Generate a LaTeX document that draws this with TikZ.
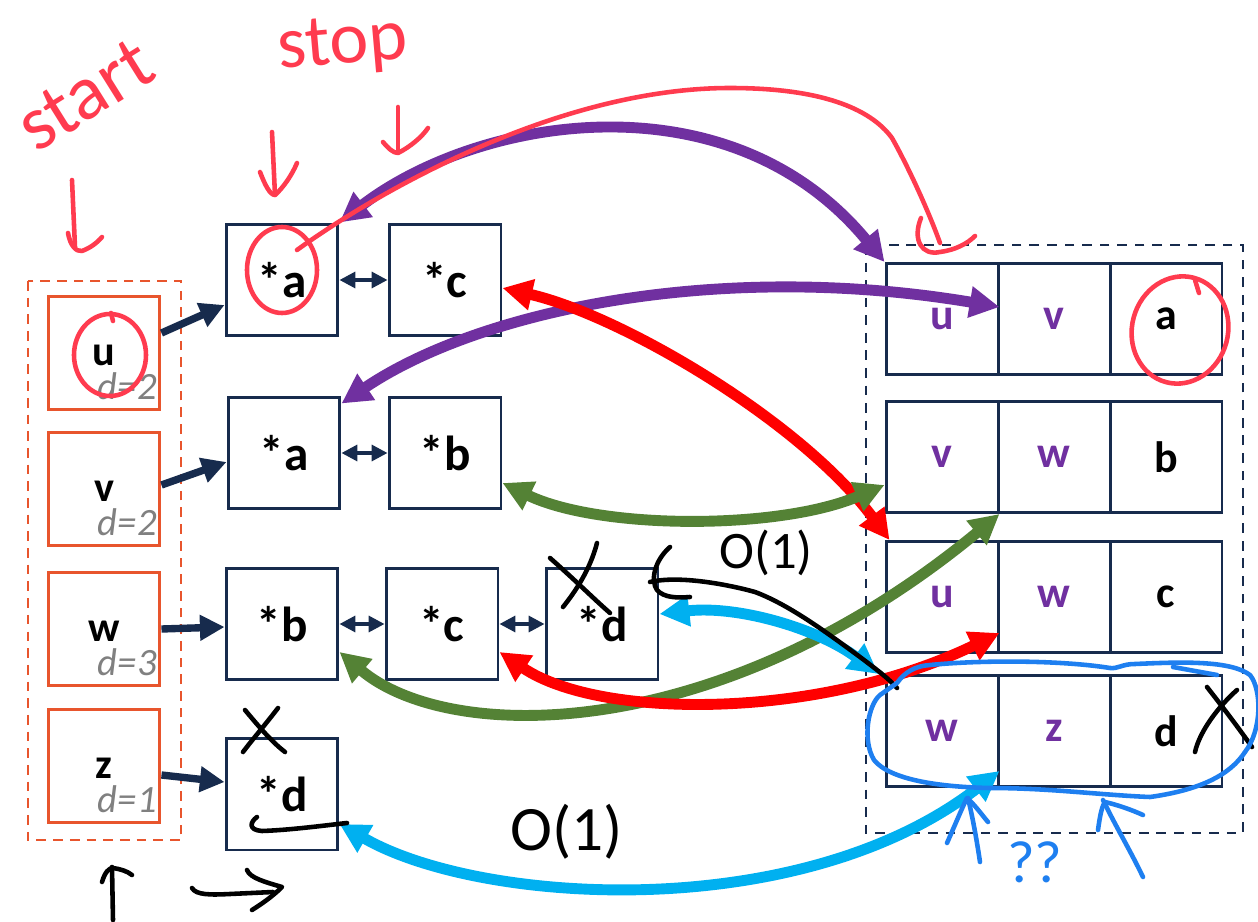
\documentclass[tikz,border=0pt]{standalone}
\usepackage{fontspec}
\setmainfont{Carlito}
\usetikzlibrary{arrows.meta}
\definecolor{boxred}{HTML}{E8552D}
\definecolor{navy}{HTML}{172B4D}
\definecolor{ptrpurple}{HTML}{7030A0}
\definecolor{ptrred}{HTML}{FF0000}
\definecolor{ptrgreen}{HTML}{548235}
\definecolor{ptrcyan}{HTML}{00B0F0}
\definecolor{inkred}{HTML}{FF3B4F}
\definecolor{inkblue}{HTML}{1E7FF0}
\definecolor{dgray}{HTML}{808080}

\begin{document}
\begin{tikzpicture}[x=0.02cm, y=-0.02cm,
    lbox/.style={draw=boxred, line width=1.7pt, minimum width=2.24cm, minimum height=2.26cm, inner sep=0pt},
    nbox/.style={draw=navy, line width=1.7pt, minimum width=2.24cm, minimum height=2.24cm, inner sep=0pt, font=\bfseries\fontsize{28}{30}\selectfont},
    cell/.style={draw=navy, line width=1.7pt, minimum width=2.24cm, minimum height=2.22cm, inner sep=0pt, font=\bfseries\fontsize{25}{27}\selectfont},
    vlet/.style={inner sep=0pt, font=\bfseries\fontsize{24}{26}\selectfont},
    dlab/.style={inner sep=0pt, anchor=east, text=dgray, font=\itshape\fontsize{22}{24}\selectfont},
    link/.style={{Triangle[length=9pt,width=9pt]}-{Triangle[length=9pt,width=9pt]}, navy, line width=2pt},
    head/.style={-{Triangle[length=14pt,width=14pt]}, navy, line width=4.2pt},
    ptr/.style={{Triangle[length=17pt,width=17pt]}-{Triangle[length=17pt,width=17pt]}, line width=6.2pt},
    ink/.style={line width=2.6pt, line cap=round, line join=round},
    scrawl/.style={inner sep=0pt, font=\fontsize{40}{40}\selectfont}
]
    \fill[white] (0,0) rectangle (1258,922);
    \useasboundingbox (0,0) rectangle (1258,922);

    % vertex list
    \draw[boxred, line width=1.5pt, dash pattern=on 5.5pt off 4pt] (28,281) rectangle (181,840);
    \foreach \n/\y/\d in {u/353/2, v/489/2, w/629/3, z/766/1} {
        \node[lbox] (\n) at (104,\y) {};
        \node[vlet] (\n-t) at (104,\y+2) {\n};
        \node[dlab] (\n-d) at (157,\y+33) {d=\d};
    }

    % adjacency lists
    \node[nbox] (a1) at (282,280) {*a};
    \node[nbox] (c1) at (445,280) {*c};
    \node[nbox] (a2) at (284,453) {*a};
    \node[nbox] (b2) at (445,453) {*b};
    \node[nbox] (b3) at (282,624) {*b};
    \node[nbox] (c3) at (442,624) {*c};
    \node[nbox] (d3) at (602,624) {*d};
    \node[nbox] (d4) at (282,794) {*d};
    \draw[link] (a1) -- (c1);
    \draw[link] (a2) -- (b2);
    \draw[link] (b3) -- (c3);
    \draw[link] (c3) -- (d3);

    \draw[head] ([yshift=0.4cm]u.east) -- ([yshift=-0.5cm]a1.west);
    \draw[head] ([yshift=0.08cm]v.east) -- ([yshift=-0.18cm]a2.west);
    \draw[head] (w.east) -- ([yshift=-0.06cm]b3.west);
    \draw[head] ([yshift=-0.18cm]z.east) -- ([yshift=0.24cm]d4.west);

    % edge table
    \draw[navy, line width=1.4pt, dash pattern=on 5.5pt off 4.5pt] (866,245) rectangle (1243,833);
    \foreach \r/\y/\p/\q/\k in {1/319/u/v/a, 2/457/v/w/b, 3/597/u/w/c, 4/731/w/z/d} {
        \node[cell, text=ptrpurple] (t\r1) at (942,\y) {\p};
        \node[cell, text=ptrpurple] (t\r2) at (1054,\y) {\q};
        \node[cell] (t\r3) at (1166,\y) {\k};
    }

    % cross pointers
    \draw[ptr, ptrpurple] (a1.north east) .. controls (480,115) and (730,75) .. (t11.north west);
    \draw[ptr, ptrpurple] ([yshift=-0.16cm]a2.north east) .. controls (480,310) and (720,260) .. ([yshift=0.24cm]t11.east);
    \draw[ptr, ptrred] ([yshift=-0.16cm]c1.east) .. controls (620,315) and (800,420) .. ([xshift=0.1cm]t31.north west);
    \draw[ptr, ptrgreen] ([yshift=-0.6cm]b2.east) .. controls (600,530) and (780,530) .. ([yshift=-0.56cm]t21.west);
    \draw[ptr, ptrgreen] ([yshift=-0.56cm]b3.east) .. controls (450,745) and (720,745) .. (t21.south east);
    \draw[ptr, ptrred] ([yshift=-0.56cm]c3.east) .. controls (600,720) and (820,720) .. ([yshift=-0.72cm]t31.east);
    \draw[ptr, ptrcyan] ([yshift=0.2cm]d3.east) .. controls (740,605) and (820,630) .. ([xshift=-0.12cm]t41.north west);
    \draw[ptr, ptrcyan] ([yshift=-0.6cm]d4.east) .. controls (480,905) and (800,925) .. ([yshift=0.34cm]t41.south east);

    % red notes
    \node[scrawl, text=inkred, rotate=32, font=\fontsize{44}{44}\selectfont] (start) at (85,95) {start};
    \node[scrawl, text=inkred, rotate=5, font=\fontsize{42}{42}\selectfont] (stop) at (343,46) {stop};
    \draw[ink, inkred] (72,180) -- (75,247);
    \draw[ink, inkred] (68,233) .. controls (70,245) and (76,252) .. (82,251) .. controls (90,248) and (97,243) .. (102,237);
    \draw[ink, inkred] (272,132) -- (275,195);
    \draw[ink, inkred] (260,172) .. controls (265,185) and (270,195) .. (275,195) .. controls (283,188) and (292,175) .. (297,163);
    \draw[ink, inkred] (398,107) -- (398,152);
    \draw[ink, inkred] (383,142) .. controls (388,148) and (393,153) .. (398,153) .. controls (410,147) and (422,137) .. (428,128);
    \draw[ink, inkred] (110,355) ellipse [x radius=36, y radius=41];
    \draw[ink, inkred] (111,313) -- (113,321);
    \draw[ink, inkred] (282,270) ellipse [x radius=35, y radius=43];
    \draw[ink, inkred, rotate around={-15:(1180,330)}] (1180,330) ellipse [x radius=48, y radius=54];
    \draw[ink, inkred] (1195,280) -- (1199,293);
    \draw[ink, inkred] (297,250) .. controls (380,190) and (560,88) .. (730,88) .. controls (820,88) and (870,108) .. (892,138) .. controls (910,170) and (930,215) .. (940,243);
    \draw[ink, inkred] (921,218) .. controls (912,240) and (922,256) .. (940,252) .. controls (955,250) and (967,244) .. (975,236);

    % black notes
    \draw[ink] (550,558) .. controls (575,580) and (595,600) .. (610,613);
    \draw[ink] (597,543) .. controls (590,570) and (575,592) .. (563,607);
    \draw[ink] (670,547) .. controls (655,560) and (650,580) .. (657,590) .. controls (664,598) and (678,598) .. (690,597);
    \draw[ink] (650,582) .. controls (680,575) and (730,585) .. (755,592) .. controls (790,605) and (830,635) .. (860,657) .. controls (880,672) and (890,680) .. (897,688);
    \node[scrawl, font=\fontsize{30}{30}\selectfont] (cost1) at (766,553) {O(1)};
    \node[scrawl, font=\fontsize{36}{36}\selectfont] (cost2) at (567,832) {O(1)};
    \draw[ink] (245,710) .. controls (260,728) and (272,742) .. (285,752);
    \draw[ink] (278,708) .. controls (265,725) and (252,740) .. (243,752);
    \draw[ink] (257,817) .. controls (250,822) and (248,830) .. (262,831) .. controls (290,830) and (320,826) .. (347,823);
    \draw[ink] (1207,687) .. controls (1225,710) and (1240,730) .. (1252,747);
    \draw[ink] (1237,690) .. controls (1220,705) and (1200,730) .. (1195,752);
    \draw[ink] (112,867) -- (113,920);
    \draw[ink] (102,882) .. controls (105,872) and (109,868) .. (113,868) .. controls (120,869) and (127,871) .. (132,875);
    \draw[ink] (192,888) .. controls (196,895) and (210,895) .. (230,894) -- (273,892);
    \draw[ink] (247,870) .. controls (250,878) and (265,882) .. (282,887) .. controls (272,897) and (260,905) .. (252,910);

    % blue notes
    \draw[ink, inkblue] (897,683) .. controls (905,672) and (915,666) .. (930,665) .. controls (980,660) and (1060,660) .. (1110,668) .. controls (1118,669) and (1122,664) .. (1135,664) .. controls (1180,662) and (1230,660) .. (1250,675) .. controls (1262,690) and (1262,730) .. (1245,752) .. controls (1230,775) and (1200,790) .. (1150,797) .. controls (1100,795) and (1050,788) .. (990,788) .. controls (940,787) and (890,780) .. (874,760) .. controls (862,740) and (868,705) .. (880,695) -- (897,683);
    \draw[ink, inkblue] (1173,667) -- (1217,675);
    \draw[ink, inkblue] (980,862) .. controls (976,835) and (972,815) .. (968,798);
    \draw[ink, inkblue] (947,843) .. controls (955,825) and (962,808) .. (967,798) .. controls (975,805) and (982,815) .. (988,822);
    \draw[ink, inkblue] (1143,877) .. controls (1130,850) and (1115,825) .. (1103,800);
    \draw[ink, inkblue] (1098,830) .. controls (1100,815) and (1102,806) .. (1105,802) .. controls (1118,805) and (1132,810) .. (1143,815);
    \node[scrawl, text=inkblue, font=\fontsize{34}{34}\selectfont] (huh) at (1035,862) {??};
\end{tikzpicture}
\end{document}
